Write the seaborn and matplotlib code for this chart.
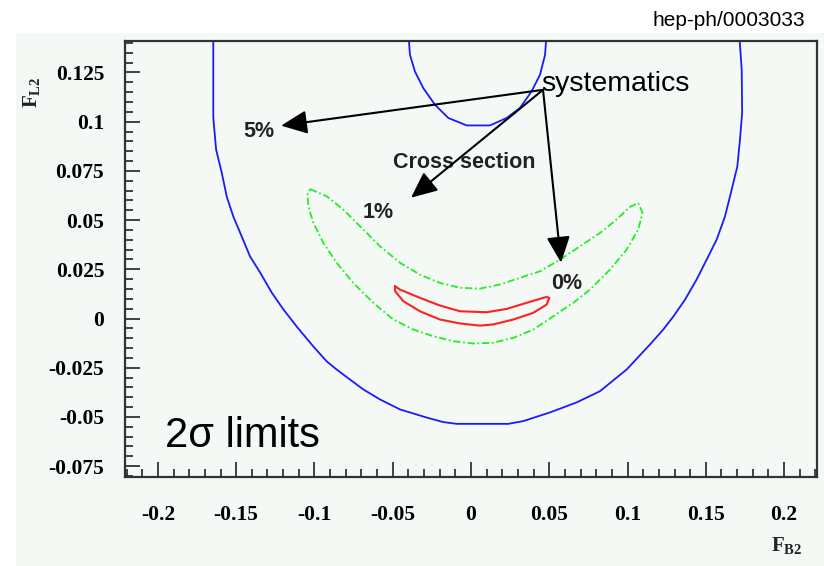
import matplotlib
matplotlib.use("Agg")
import matplotlib.pyplot as plt
from matplotlib.patches import Rectangle
from matplotlib.ticker import MultipleLocator, FixedLocator
import numpy as np
import pandas as pd
import seaborn as sns

# ---- 2-sigma contours in the (F_B2, F_L2) plane ----
# 5% cross-section systematics (outer blue curve)
sys5_x = [-0.1646, -0.1646, -0.1628, -0.1592, -0.1560, -0.1518, -0.1464, -0.1411,
          -0.1347, -0.1273, -0.1198, -0.1113, -0.1007, -0.0921, -0.0858, -0.0773,
          -0.0688, -0.0581, -0.0453, -0.0283, -0.0177, -0.0091, 0.0238, 0.0334,
          0.0504, 0.0675, 0.0824, 0.0994, 0.1143, 0.1228, 0.1292, 0.1367, 0.1441,
          0.1505, 0.1569, 0.1622, 0.1665, 0.1701, 0.1718, 0.1732, 0.1729, 0.1713]
sys5_y = [0.1450, 0.1020, 0.0858, 0.0741, 0.0619, 0.0518, 0.0416, 0.0315,
          0.0234, 0.0132, 0.0046, -0.0041, -0.0142, -0.0218, -0.0259, -0.0310,
          -0.0360, -0.0411, -0.0462, -0.0503, -0.0526, -0.0535, -0.0535, -0.0521,
          -0.0477, -0.0426, -0.0369, -0.0259, -0.0132, -0.0056, 0.0010, 0.0096, 0.0198,
          0.0299, 0.0401, 0.0518, 0.0655, 0.0772, 0.0909, 0.1046, 0.1264, 0.1450]

# 5% systematics, second (upper) allowed region
sys5b_x = [-0.0400, -0.0390, -0.0358, -0.0305, -0.0230, -0.0145, -0.0027,
           0.0121, 0.0228, 0.0313, 0.0387, 0.0441, 0.0473, 0.0483]
sys5b_y = [0.1450, 0.1340, 0.1255, 0.1171, 0.1086, 0.1019, 0.0981,
           0.0981, 0.1019, 0.1070, 0.1154, 0.1239, 0.1340, 0.1450]

# 1% systematics (green)
sys1_x = [-0.1028, -0.0921, -0.0815, -0.0709, -0.0581, -0.0453, -0.0326, -0.0198,
          -0.0070, 0.0057, 0.0185, 0.0313, 0.0440, 0.0568, 0.0696, 0.0824, 0.0930,
          0.1015, 0.1068, 0.1096, 0.1068, 0.0994, 0.0888, 0.0760, 0.0653, 0.0526,
          0.0398, 0.0270, 0.0142, 0.0015, -0.0113, -0.0241, -0.0368, -0.0496,
          -0.0624, -0.0752, -0.0858, -0.0943, -0.1007, -0.1039, -0.1045, -0.1028]
sys1_y = [0.0658, 0.0621, 0.0553, 0.0469, 0.0367, 0.0283, 0.0223, 0.0181,
          0.0156, 0.0152, 0.0173, 0.0207, 0.0240, 0.0299, 0.0367, 0.0435, 0.0503,
          0.0567, 0.0587, 0.0537, 0.0452, 0.0350, 0.0249, 0.0147, 0.0080, 0.0012,
          -0.0056, -0.0098, -0.0123, -0.0127, -0.0115, -0.0090, -0.0056, -0.0005,
          0.0080, 0.0181, 0.0283, 0.0384, 0.0486, 0.0570, 0.0629, 0.0658]

# 0% systematics (red)
sys0_x = [-0.0485, -0.0453, -0.0326, -0.0198, -0.0070, 0.0100, 0.0228, 0.0356,
          0.0483, 0.0500, 0.0483, 0.0398, 0.0270, 0.0142, 0.0057, -0.0070,
          -0.0198, -0.0326, -0.0432, -0.0485, -0.0485]
sys0_y = [0.0164, 0.0147, 0.0105, 0.0066, 0.0037, 0.0032, 0.0049, 0.0080,
          0.0110, 0.0105, 0.0071, 0.0029, -0.0005, -0.0030, -0.0036, -0.0025,
          -0.0005, 0.0037, 0.0088, 0.0139, 0.0164]

x_ticks = [-0.2, -0.15, -0.1, -0.05, 0, 0.05, 0.1, 0.15, 0.2]
x_tick_labels = ["-0.2", "-0.15", "-0.1", "-0.05", "0", "0.05", "0.1", "0.15", "0.2"]
y_ticks = [-0.075, -0.05, -0.025, 0, 0.025, 0.05, 0.075, 0.1, 0.125]
y_tick_labels = ["-0.075", "-0.05", "-0.025", "0", "0.025", "0.05", "0.075", "0.1", "0.125"]

sns.set_theme(style="white")
plt.rcParams["font.family"] = ["Liberation Sans", "DejaVu Sans"]
plt.rcParams["mathtext.fontset"] = "custom"
plt.rcParams["mathtext.bf"] = "Liberation Serif:bold"
plt.rcParams["mathtext.rm"] = "Liberation Serif:bold"

W, H = 824, 566
fig = plt.figure(figsize=(W / 100, H / 100), dpi=100)
fig.patch.set_facecolor("white")
canvas_col = "#f5f9f6"
fig.patches.append(Rectangle((16 / W, 0), 1 - 16 / W, 1 - 33 / H,
                             transform=fig.transFigure, facecolor=canvas_col,
                             edgecolor="none", zorder=-10))

ax = fig.add_axes([125 / W, 1 - 477 / H, (817 - 125) / W, (477 - 41) / H])
ax.set_zorder(1)
ax.set_facecolor(canvas_col)

def contour(xs, ys, **kw):
    df = pd.DataFrame({"x": xs, "y": ys})
    sns.lineplot(data=df, x="x", y="y", sort=False, estimator=None, ax=ax,
                 solid_joinstyle="round", dash_joinstyle="round", **kw)

contour(sys5_x, sys5_y, color="#1a1aff", lw=1.3)
contour(sys5b_x, sys5b_y, color="#1a1aff", lw=1.3)
contour(sys1_x, sys1_y, color="#22ee22", lw=1.3, linestyle=(0, (4, 1.5, 1, 1.5)))
contour(sys0_x, sys0_y, color="#ff2020", lw=1.5)

ax.set_xlim(-0.221, 0.221)
ax.set_ylim(-0.0805, 0.141)
ax.set_xlabel("")
ax.set_ylabel("")

tick_font = dict(family="Liberation Serif", weight="bold", size=15.5)
ax.xaxis.set_major_locator(FixedLocator(x_ticks))
ax.yaxis.set_major_locator(FixedLocator(y_ticks))
ax.set_xticklabels(x_tick_labels, fontdict=tick_font)
ax.set_yticklabels(y_tick_labels, fontdict=tick_font)
ax.xaxis.set_minor_locator(MultipleLocator(0.01))
ax.yaxis.set_minor_locator(MultipleLocator(0.005))
ax.tick_params(axis="x", which="both", direction="in", bottom=True, top=False,
               pad=20, colors="#222222", labelcolor="black")
ax.tick_params(axis="y", which="both", direction="in", left=True, right=False,
               pad=15, colors="#222222", labelcolor="black")
ax.tick_params(which="major", length=11, width=1.2)
ax.tick_params(which="minor", length=6, width=1.2)
for s in ax.spines.values():
    s.set_visible(True)
    s.set_color("#333333")
    s.set_linewidth(1.6)

# axis titles
fig.text(32 / W, 1 - 92 / H, r"$\mathbf{F_{L2}}$", rotation=90, ha="center",
         va="center", fontsize=15, color="#222222")
fig.text(787 / W, 1 - 545 / H, r"$\mathbf{F_{B2}}$", ha="center", va="center",
         fontsize=15, color="#222222")

# contour labels
lab = dict(fontsize=15.5, fontweight="bold", color="#222222", ha="center", va="center",
           family="Liberation Sans")
ax.text(-0.1354, 0.0949, "5%", **lab)
ax.text(-0.0594, 0.0538, "1%", **lab)
ax.text(0.0613, 0.0178, "0%", **lab)
ax.text(-0.0045, 0.0792, "Cross section", **lab)

# arrows from the "systematics" note
origin = (0.0460, 0.1162)
arrow_props = dict(arrowstyle="-|>,head_length=1.0,head_width=0.45", color="black",
                   lw=1.5, mutation_scale=16, shrinkA=0, shrinkB=0)
for tip in [(-0.1213, 0.0980), (-0.0383, 0.0614), (0.0575, 0.0284)]:
    ax.annotate("", xy=tip, xytext=origin, arrowprops=arrow_props)
ax.text(0.0447, 0.1193, "systematics", fontsize=20.5, color="black",
        ha="left", va="center")
ax.text(-0.1954, -0.0599, "2\u03c3 limits", fontsize=30, color="black",
        ha="left", va="center")

fig.text(805 / W, 1 - 21 / H, "hep-ph/0003033", fontsize=15, color="black",
         ha="right", va="center")

fig.savefig("out.png", dpi=100)
